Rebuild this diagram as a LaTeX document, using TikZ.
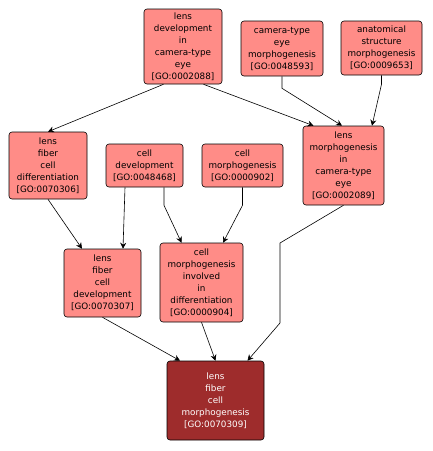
\documentclass[tikz,border=0pt]{standalone}
\usepackage{fontspec}
\setmainfont{DejaVu Sans}
\usepackage{tikz}
\usetikzlibrary{positioning,arrows.meta,calc}
\usepackage{xcolor}
\definecolor{termpink}{RGB}{255,140,135}
\definecolor{termdark}{RGB}{158,44,44}

\begin{document}
\begin{tikzpicture}[
  x=1pt, y=-1pt,
  term/.style={draw, rectangle, rounded corners=3pt, fill=termpink, align=center, font=\fontsize{8.8}{12}\selectfont, inner sep=1pt, line width=0.6pt},
  focus/.style={term, fill=termdark, text=white},
  arr/.style={-{Stealth[length=6pt, width=6pt, inset=2pt]}, line width=0.6pt},
]
  \useasboundingbox (0,0) rectangle (433,451);
  \node[term, minimum width=78pt, minimum height=75pt] (lensdev) at (183,46.5) {lens\\development\\in\\camera-type\\eye\\{[GO:0002088]}};
  \node[term, minimum width=82pt, minimum height=55pt] (cameye) at (282,48.5) {camera-type\\eye\\morphogenesis\\{[GO:0048593]}};
  \node[term, minimum width=81pt, minimum height=54pt] (anatmorph) at (381.5,48) {anatomical\\structure\\morphogenesis\\{[GO:0009653]}};
  \node[term, minimum width=78pt, minimum height=67pt] (fibdiff) at (48,165.5) {lens\\fiber\\cell\\differentiation\\{[GO:0070306]}};
  \node[term, minimum width=77pt, minimum height=43pt] (celldev) at (144.5,165.5) {cell\\development\\{[GO:0048468]}};
  \node[term, minimum width=81pt, minimum height=43pt] (cellmorph) at (242.5,165.5) {cell\\morphogenesis\\{[GO:0000902]}};
  \node[term, minimum width=81pt, minimum height=79pt] (lensmorph) at (343.5,165.5) {lens\\morphogenesis\\in\\camera-type\\eye\\{[GO:0002089]}};
  \node[term, minimum width=77pt, minimum height=68pt] (fibdev) at (102.5,283) {lens\\fiber\\cell\\development\\{[GO:0070307]}};
  \node[term, minimum width=83pt, minimum height=79pt] (morphdiff) at (201.5,282.5) {cell\\morphogenesis\\involved\\in\\differentiation\\{[GO:0000904]}};
  \node[focus, minimum width=97pt, minimum height=79pt] (fibmorph) at (215.5,400.5) {lens\\fiber\\cell\\morphogenesis\\{[GO:0070309]}};

  \draw[arr] ([xshift=-19.5pt]lensdev.south) -- (fibdiff.north);
  \draw[arr] ([xshift=20.5pt]lensdev.south) -- ([xshift=-30pt]lensmorph.north);
  \draw[arr] (cameye.south) -- ++(0,12) -- ([xshift=-1.5pt]lensmorph.north);
  \draw[arr] (anatmorph.south) -- ++(0,9) -- ([xshift=28.5pt]lensmorph.north);
  \draw[arr] (fibdiff.south) -- ([xshift=-20.5pt]fibdev.north);
  \draw[arr] ([xshift=-19.5pt]celldev.south) -- ([xshift=20.5pt]fibdev.north);
  \draw[arr] ([xshift=19.5pt]celldev.south) -- ++(0,18) -- ([xshift=-20pt]morphdiff.north);
  \draw[arr] (cellmorph.south) -- ++(0,18) -- ([xshift=21.5pt]morphdiff.north);
  \draw[arr] (fibdev.south) -- ([xshift=-35.5pt]fibmorph.north);
  \draw[arr] (morphdiff.south) -- (fibmorph.north);
  \draw[arr] (lensmorph.south) -- (280,243) -- (280,323) -- ([xshift=32pt]fibmorph.north);
\end{tikzpicture}
\end{document}
